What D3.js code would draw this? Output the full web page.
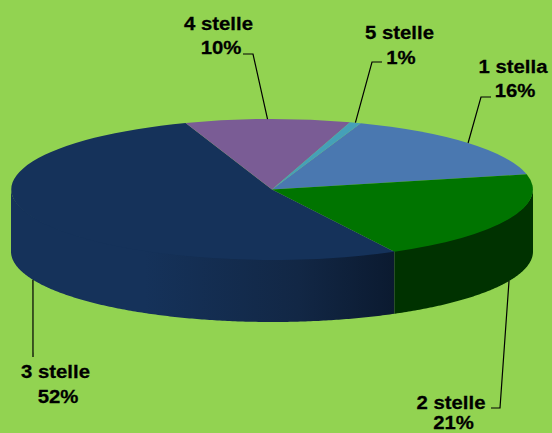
<!DOCTYPE html>
<html lang="it">
  <head>
    <meta charset="utf-8" />
    <title>Stelle</title>
    <script src="https://cdn.jsdelivr.net/npm/d3@7"></script>
    <style type="text/css">
      html, body { margin: 0; padding: 0; background: #92d351; overflow: hidden; }
      svg { display: block; }
      .label { font-family: "Liberation Sans", Arial, sans-serif; font-weight: bold; font-size: 18px; fill: #000; stroke: #000; stroke-width: 0.25; text-anchor: middle; }
      .leader { fill: none; stroke: #000; stroke-width: 1.2; }
    </style>
  </head>
  <body>
    <div id="chart"></div>
    <script type="text/javascript">
      /*******************************************
       * data
       *******************************************/
      const categories = ["1 stella", "2 stelle", "3 stelle", "4 stelle", "5 stelle"];
      // shares, the labels show them rounded
      const shares = [16.0, 20.7, 52.4, 10.2, 0.7];

      /*******************************************
       * layout and styles
       *******************************************/
      const width = 552;
      const height = 433;
      const cx = 272;
      const cy = 189.5;
      const rx = 261;
      const ry = 70.5;
      const depth = 62;
      const firstAngle = (19.9 * Math.PI) / 180;

      const topColors = ["#4a78b0", "#007400", "#15325a", "#7a5c95", "#45a0b8"];
      const wallColors = ["#2c4a70", "#003200", "url(#navyWall)", "#4a3860", "#2a6070"];

      // label centres, two baselines, leader elbow and leader tail
      const labelLayout = [
        { x: [513, 515], y: [73, 97], elbow: [481, 97], tail: [491, 97] },
        { x: [451, 453.5], y: [409, 429], elbow: [500, 408], tail: [491, 408] },
        { x: [55.5, 58], y: [378, 403], elbow: [33, 357], tail: [33, 357] },
        { x: [218.5, 221], y: [30, 54], elbow: [253, 54], tail: [243, 54] },
        { x: [399.5, 401], y: [39, 64], elbow: [372, 62], tail: [382, 62] },
      ];

      /*******************************************
       * svg
       *******************************************/
      const svg = d3
        .select("#chart")
        .append("svg")
        .attr("width", width)
        .attr("height", height);

      const grad = svg
        .append("defs")
        .append("linearGradient")
        .attr("id", "navyWall")
        .attr("gradientUnits", "userSpaceOnUse")
        .attr("x1", cx - rx)
        .attr("x2", 394)
        .attr("y1", 0)
        .attr("y2", 0);
      grad.append("stop").attr("offset", 0).attr("stop-color", "#15325a");
      grad.append("stop").attr("offset", 0.35).attr("stop-color", "#15325a");
      grad.append("stop").attr("offset", 0.75).attr("stop-color", "#122745");
      grad.append("stop").attr("offset", 1).attr("stop-color", "#0b1a30");

      /*******************************************
       * pie
       *******************************************/
      const pie = d3
        .pie()
        .sort(null)
        .startAngle(firstAngle)
        .endAngle(firstAngle + 2 * Math.PI);
      const slices = pie(shares);

      const xScale = d3.scaleLinear().domain([-1, 1]).range([cx - rx, cx + rx]);
      const yScale = d3.scaleLinear().domain([-1, 1]).range([cy - ry, cy + ry]);

      // side wall, only the part between 90 and 270 degrees faces us
      // y0 goes 1px up under the top face so no seam shows
      const wall = d3
        .area()
        .x((a) => xScale(Math.sin(a)))
        .y0((a) => yScale(-Math.cos(a)) - 1)
        .y1((a) => yScale(-Math.cos(a)) + depth);

      const wallG = svg.append("g");
      slices.forEach((s, i) => {
        [0, 2 * Math.PI].forEach((turn) => {
          const a0 = Math.max(s.startAngle, Math.PI / 2 + turn);
          const a1 = Math.min(s.endAngle, (3 * Math.PI) / 2 + turn);
          if (a1 <= a0) return;
          const steps = d3.range(a0, a1, 0.01).concat([a1]);
          wallG.append("path").attr("d", wall(steps)).attr("fill", wallColors[i]);
        });
      });

      // top face
      const arc = d3.arc().innerRadius(0).outerRadius(1);
      svg
        .append("g")
        .attr("transform", `translate(${cx}, ${cy}) scale(${rx}, ${ry})`)
        .selectAll("path")
        .data(slices)
        .enter()
        .append("path")
        .attr("d", arc)
        .attr("fill", (d, i) => topColors[i]);

      /*******************************************
       * leaders and labels
       *******************************************/
      const anchor = (s) => {
        const mid = (s.startAngle + s.endAngle) / 2;
        const onWall = Math.cos(mid) < 0;
        return [
          xScale(Math.sin(mid)),
          yScale(-Math.cos(mid)) + (onWall ? depth : 0),
        ];
      };

      slices.forEach((s, i) => {
        const l = labelLayout[i];
        svg
          .append("path")
          .attr("class", "leader")
          .attr("d", d3.line()([anchor(s), l.elbow, l.tail]));

        const lines = [categories[i], `${Math.round(shares[i])}%`];
        lines.forEach((t, j) => {
          svg
            .append("text")
            .attr("class", "label")
            .attr("transform", `translate(${l.x[j]}, ${l.y[j]}) scale(1.13, 1)`)
            .text(t);
        });
      });
    </script>
  </body>
</html>
